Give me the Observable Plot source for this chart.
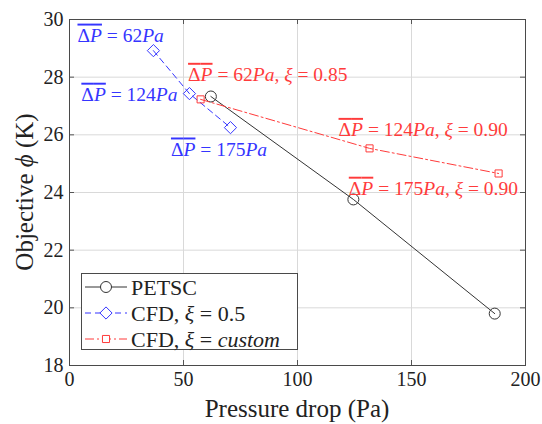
<!DOCTYPE html>
<html><head><meta charset="utf-8">
<script src="https://cdn.jsdelivr.net/npm/d3@7"></script>
<script src="https://cdn.jsdelivr.net/npm/@observablehq/plot@0.6"></script>
<style>
html,body{margin:0;padding:0;background:#fff;}
#chart{width:542px;height:424px;}
</style></head>
<body><div id="chart"></div>
<script>
// Data
const petscX = [62, 124.5, 186.5];
const petscY = [27.33, 23.76, 19.80];
const cfd05X = [36.8, 52.6, 70.6];
const cfd05Y = [28.92, 27.43, 26.25];
const cfdCustomX = [57.5, 131.6, 188.2];
const cfdCustomY = [27.23, 25.53, 24.66];
const xTicks = [0, 50, 100, 150, 200];
const yTicks = [18, 20, 22, 24, 26, 28, 30];
const seriesNames = ["PETSC", "CFD, ξ = 0.5", "CFD, ξ = custom"];
const annX = [3.5, 5.2, 44.5, 52, 118, 122.5];
const annY = [29.45, 27.40, 25.5, 28.09, 26.18, 24.14];
const annDP = ["62", "124", "175", "62", "124", "175"];
const annXi = [null, null, null, "0.85", "0.90", "0.90"];
const annSeries = [1, 1, 1, 2, 2, 2];

const blue = "#3535ff", red = "#ff3b3b", black = "#333333";
const colors = [black, blue, red];
const dashes = [null, "6,4", "9,3,2,3"];

const pet = petscX.map((x, i) => ({x, y: petscY[i]}));
const c05 = cfd05X.map((x, i) => ({x, y: cfd05Y[i]}));
const cc = cfdCustomX.map((x, i) => ({x, y: cfdCustomY[i]}));
const ann = annX.map((x, i) => ({x, y: annY[i], dp: annDP[i], xi: annXi[i], s: annSeries[i]}));

const W = 542, H = 424, mL = 69, mR = 17, mT = 19, mB = 59;
const fh = H - mT - mB;
const FONT = '"Liberation Serif", "DejaVu Serif", serif';

const plot = Plot.plot({
  width: W, height: H,
  marginLeft: mL, marginRight: mR, marginTop: mT, marginBottom: mB,
  x: {domain: [0, 200], ticks: xTicks},
  y: {domain: [18, 30], ticks: yTicks},
  style: {fontFamily: FONT, background: "#fff"},
  marks: [
    Plot.gridX(xTicks, {stroke: "#d9d9d9", strokeOpacity: 1}),
    Plot.gridY(yTicks, {stroke: "#d9d9d9", strokeOpacity: 1}),
    Plot.tickX(xTicks, {x: d => d, insetTop: fh - 5, stroke: "#555"}),
    Plot.tickX(xTicks, {x: d => d, insetBottom: fh - 5, stroke: "#555"}),
    Plot.axisX({ticks: xTicks, tickSize: 0, tickPadding: 6, fontSize: 20, label: null, color: "#222"}),
    Plot.axisY({ticks: yTicks, tickSize: 0, tickPadding: 6, fontSize: 20, label: null, color: "#222"}),
    Plot.tickY(yTicks, {y: d => d, insetRight: 456 - 5, stroke: "#555"}),
    Plot.tickY(yTicks, {y: d => d, insetLeft: 456 - 5, stroke: "#555"}),
    Plot.line(pet, {x: "x", y: "y", stroke: black, strokeWidth: 1}),
    Plot.dot(pet, {x: "x", y: "y", r: 5.5, stroke: black, fill: "none", strokeWidth: 1}),
    Plot.line(c05, {x: "x", y: "y", stroke: blue, strokeWidth: 1, strokeDasharray: dashes[1]}),
    Plot.dot(c05, {x: "x", y: "y", symbol: "diamond2", r: 5.5, stroke: blue, fill: "none", strokeWidth: 1}),
    Plot.line(cc, {x: "x", y: "y", stroke: red, strokeWidth: 1, strokeDasharray: dashes[2]}),
    Plot.dot(cc, {x: "x", y: "y", symbol: "square2", r: 4.5, stroke: red, fill: "none", strokeWidth: 1}),
    Plot.text(ann, {x: "x", y: "y", text: d => "ΔP = " + d.dp + "Pa" + (d.xi ? ", ξ = " + d.xi : ""),
      fill: d => colors[d.s], textAnchor: "start", lineAnchor: "middle", fontSize: 19.5, className: "annot"}),
    Plot.frame({stroke: "#4a4a4a", strokeWidth: 1})
  ]
});
document.getElementById("chart").appendChild(plot);

const svg = d3.select(plot);
svg.selectAll("g.annot text").each(function(_, i) {
  const d = ann[i];
  const t = d3.select(this);
  t.text(null);
  t.append("tspan").attr("text-decoration", "overline").style("text-decoration", "overline")
    .html('Δ<tspan font-style="italic">P</tspan>');
  t.append("tspan").text(" = " + d.dp);
  t.append("tspan").attr("font-style", "italic").text("Pa");
  if (d.xi) {
    t.append("tspan").text(", ");
    t.append("tspan").attr("font-style", "italic").text("ξ");
    t.append("tspan").text(" = " + d.xi);
  }
});

// axis labels
svg.append("text").attr("x", mL + (W - mL - mR) / 2).attr("y", 417)
  .attr("text-anchor", "middle").attr("font-size", 25).attr("fill", "#222")
  .text("Pressure drop (Pa)");
const yl = svg.append("text").attr("transform", `translate(33,${mT + fh / 2}) rotate(-90)`)
  .attr("text-anchor", "middle").attr("font-size", 25).attr("fill", "#222");
yl.append("tspan").text("Objective ");
yl.append("tspan").attr("font-style", "italic").text("ϕ");
yl.append("tspan").text(" (K)");

// legend
const lg = svg.append("g").attr("text-anchor", "start");
lg.append("rect").attr("x", 81.5).attr("y", 273.5).attr("width", 216).attr("height", 76)
  .attr("fill", "#fff").attr("stroke", "#4a4a4a");
const rowsY = [287, 313, 339];
const symbols = [d3.symbolCircle, d3.symbolDiamond2, d3.symbolSquare2];
seriesNames.forEach((name, i) => {
  const y = rowsY[i];
  lg.append("line").attr("x1", 85).attr("x2", 127).attr("y1", y).attr("y2", y)
    .attr("stroke", colors[i]).attr("stroke-dasharray", dashes[i]);
  lg.append("path").attr("transform", `translate(106,${y})`)
    .attr("d", d3.symbol(symbols[i], i === 2 ? 64 : 95)()).attr("fill", "#fff").attr("stroke", colors[i]);
  const t = lg.append("text").attr("x", 131).attr("y", y).attr("dy", "0.35em")
    .attr("text-anchor", "start").attr("font-size", 22).attr("fill", "#222");
  if (i === 0) t.text(name);
  else {
    t.append("tspan").text("CFD, ");
    t.append("tspan").attr("font-style", "italic").text("ξ");
    t.append("tspan").text(" = ");
    if (i === 1) t.append("tspan").text("0.5");
    else t.append("tspan").attr("font-style", "italic").text("custom");
  }
});
</script></body></html>
